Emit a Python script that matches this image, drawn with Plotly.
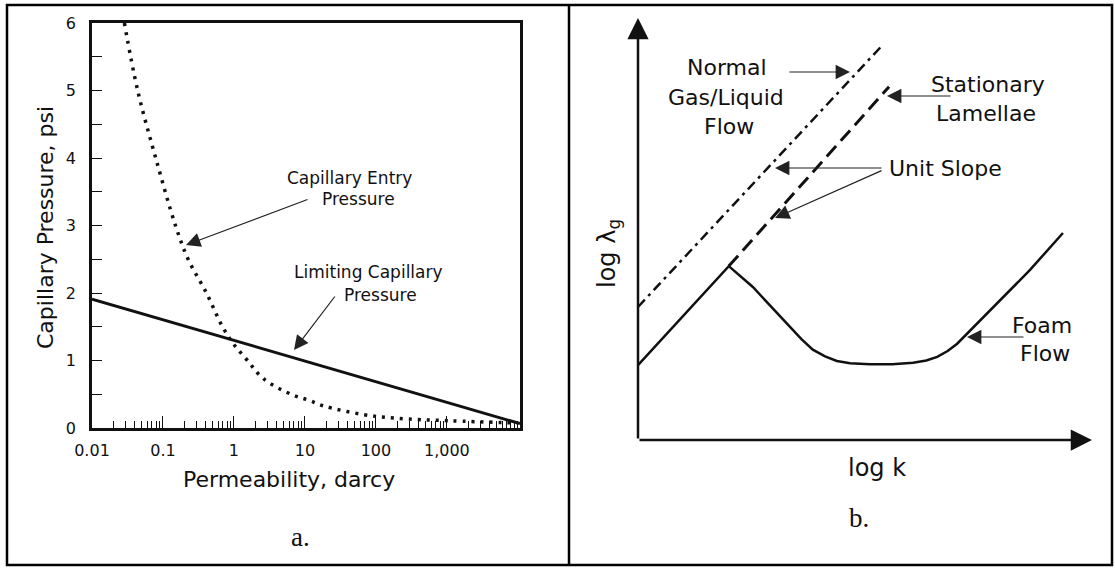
import plotly.graph_objects as go

W, H = 1115, 568
INK = "#111111"
SANS = "DejaVu Sans, Arial, sans-serif"
SERIF = "Liberation Serif, Times New Roman, serif"

# panel a: capillary pressure (psi) against permeability (darcy)
ENTRY_K = [0.0286, 0.044, 0.079, 0.15, 0.226, 0.41, 0.69, 0.98, 1.55, 2.6,
           6.7, 11.5, 18, 66, 186, 1100, 10000]
ENTRY_P = [6.0, 5.0, 4.0, 3.0, 2.5, 2.0, 1.5, 1.25, 1.0, 0.73,
           0.49, 0.41, 0.33, 0.2, 0.145, 0.107, 0.075]
LIMIT_K = [0.01, 10700]
LIMIT_P = [1.91, 0.065]
K_TICKS = [0.01, 0.1, 1, 10, 100, 1000]
K_TICKTEXT = ["0.01", "0.1", "1", "10", "100", "1,000"]
K_MINOR = [m * 10.0 ** e for e in range(-2, 4) for m in range(2, 10)] + [10000]

# panel b: schematic, arbitrary log units (log k, log lambda_g)
NORMAL_X = [0.0, 5.35]
NORMAL_Y = [2.93, 8.66]
LAMELLAE_X = [2.0, 5.53]
LAMELLAE_Y = [3.83, 7.78]
FOAM_X = [0.0, 2.0, 2.53, 3.06, 3.35, 3.6, 3.85, 4.12, 4.38, 4.67, 5.11, 5.6,
          6.06, 6.35, 6.59, 6.82, 7.03, 7.47, 8.04, 8.63, 9.36]
FOAM_Y = [1.65, 3.83, 3.37, 2.80, 2.49, 2.22, 1.99, 1.84, 1.74, 1.69, 1.67, 1.67,
          1.70, 1.75, 1.83, 1.96, 2.12, 2.56, 3.15, 3.74, 4.56]
B_XMAX = 10.0
B_YMAX = 9.295


def px(x):
    return x / W


def py(y):
    return 1 - y / H


fig = go.Figure()

fig.add_trace(go.Scatter(x=ENTRY_K, y=ENTRY_P, mode="lines", line_shape="spline",
                         line=dict(color=INK, width=3.5, dash="3px,6px"),
                         xaxis="x", yaxis="y"))
fig.add_trace(go.Scatter(x=LIMIT_K, y=LIMIT_P, mode="lines",
                         line=dict(color=INK, width=3), xaxis="x", yaxis="y"))

fig.add_trace(go.Scatter(x=NORMAL_X, y=NORMAL_Y, mode="lines",
                         line=dict(color=INK, width=2.5, dash="10px,5px,3px,5px"),
                         xaxis="x2", yaxis="y2"))
fig.add_trace(go.Scatter(x=LAMELLAE_X, y=LAMELLAE_Y, mode="lines",
                         line=dict(color=INK, width=3, dash="14px,7px"),
                         xaxis="x2", yaxis="y2"))
fig.add_trace(go.Scatter(x=FOAM_X, y=FOAM_Y, mode="lines",
                         line=dict(color=INK, width=2.5), xaxis="x2", yaxis="y2"))


def label(text, x, y, size=22, family=SANS, angle=0):
    fig.add_annotation(text=text, x=px(x), y=py(y), xref="paper", yref="paper",
                       showarrow=False, textangle=angle, xanchor="center",
                       yanchor="middle", font=dict(size=size, family=family, color=INK))


def pointer(tip, tail):
    fig.add_annotation(x=px(tip[0]), y=py(tip[1]), xref="paper", yref="paper",
                       ax=tail[0] - tip[0], ay=tail[1] - tip[1], text="",
                       showarrow=True, arrowhead=2, arrowsize=2.4, arrowwidth=1.2,
                       arrowcolor="#222222")


# panel a texts
label("Capillary Entry", 349, 178, 17)
label("Pressure", 358, 199, 17)
pointer((186, 245), (309, 199))
label("Limiting Capillary", 368, 272, 17)
label("Pressure", 380, 295, 17)
pointer((294, 350), (336, 295))
label("Capillary Pressure, psi", 45, 228, 22, angle=-90)
label("Permeability, darcy", 289, 479, 22)
label("a.", 300, 537, 27, SERIF)

# panel b texts
label("Normal", 727, 67)
label("Gas/Liquid", 726, 97)
label("Flow", 729, 127)
pointer((850, 72), (788, 72))
label("Stationary", 988, 85)
label("Lamellae", 986, 113)
pointer((887, 96), (952, 96))
label("Unit Slope", 945, 168)
pointer((775, 168), (883, 168))
pointer((775, 218), (883, 170))
label("Foam", 1042, 325)
label("Flow", 1045, 354)
pointer((967, 337), (1025, 337))
label("log k", 877, 468, 24)
label("log λ<sub>g</sub>", 609, 254, 24, angle=-90)
label("b.", 859, 518, 27, SERIF)

# panel b axes drawn as arrows
for tx, ty in [(0, B_YMAX), (B_XMAX, 0)]:
    fig.add_annotation(x=tx, y=ty, ax=0, ay=0, xref="x2", yref="y2",
                       axref="x2", ayref="y2", text="", showarrow=True,
                       arrowhead=2, arrowsize=1.7, arrowwidth=2.5, arrowcolor=INK)

fig.update_layout(
    width=W, height=H, margin=dict(l=0, r=0, t=0, b=0, autoexpand=False),
    paper_bgcolor="white", plot_bgcolor="white", showlegend=False,
    font=dict(family=SANS, size=15, color=INK),
    xaxis=dict(domain=[px(92), px(520)], type="log", range=[-2, 4.03],
               tickvals=K_TICKS, ticktext=K_TICKTEXT, ticks="inside", ticklen=12,
               tickwidth=1, tickcolor=INK, showline=True, linewidth=2.5,
               linecolor=INK, mirror=True, showgrid=False, zeroline=False,
               ticklabelstandoff=6, automargin=False, tickfont=dict(size=16),
               minor=dict(tickvals=K_MINOR, ticks="inside", ticklen=7,
                          tickwidth=1, tickcolor=INK, showgrid=False)),
    yaxis=dict(domain=[py(428), py(23)], range=[0, 6], dtick=1, ticks="inside",
               ticklen=10, tickwidth=1, tickcolor=INK, showline=True,
               linewidth=2.5, linecolor=INK, mirror=True, showgrid=False,
               zeroline=False, ticklabelstandoff=10, automargin=False,
               tickfont=dict(size=16),
               minor=dict(dtick=0.5, ticks="inside", ticklen=10, tickwidth=1,
                          tickcolor=INK, showgrid=False)),
    xaxis2=dict(domain=[px(638), px(1092)], range=[0, B_XMAX], visible=False,
                automargin=False),
    yaxis2=dict(domain=[py(440), py(18)], range=[0, B_YMAX], visible=False,
                automargin=False),
    shapes=[
        dict(type="rect", xref="paper", yref="paper", x0=px(7), x1=px(1112),
             y0=py(565), y1=py(5), line=dict(color="black", width=2.5)),
        dict(type="line", xref="paper", yref="paper", x0=px(569), x1=px(569),
             y0=py(565), y1=py(5), line=dict(color="black", width=2.5)),
    ],
)

fig.write_html("out.html", config={"displayModeBar": False},
               post_script="document.body.style.margin='0';document.body.style.overflow='hidden';")
